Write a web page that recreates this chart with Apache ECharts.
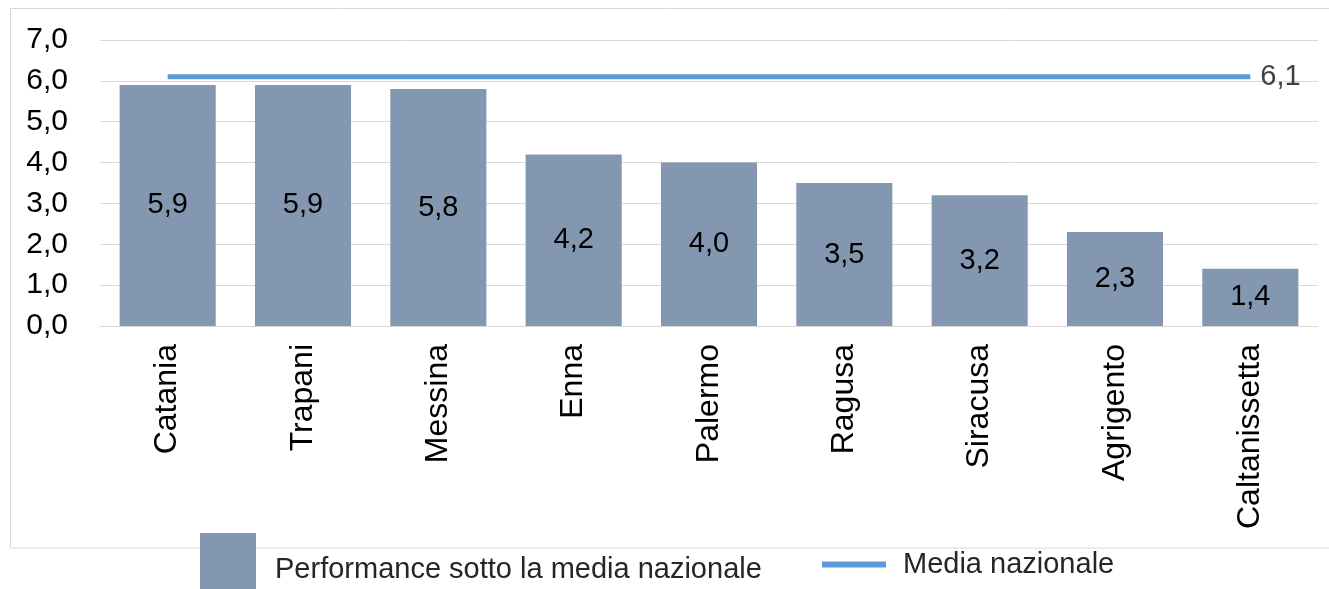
<!DOCTYPE html>
<html><head><meta charset="utf-8">
<script src="https://cdn.jsdelivr.net/npm/echarts@6/dist/echarts.min.js"></script>
<style>html,body{margin:0;padding:0;background:#fff}#c{width:1329px;height:589px}</style>
</head><body><div id="c"></div>
<script>
var categories = ['Catania','Trapani','Messina','Enna','Palermo','Ragusa','Siracusa','Agrigento','Caltanissetta'];
var barValues = [5.9, 5.9, 5.8, 4.2, 4.0, 3.5, 3.2, 2.3, 1.4];
var nationalAverage = [6.1, 6.1, 6.1, 6.1, 6.1, 6.1, 6.1, 6.1, 6.1];
var barName = 'Performance sotto la media nazionale';
var lineName = 'Media nazionale';
function fmt(v){ return Number(v).toFixed(1).replace('.', ','); }
var FONT = 'Liberation Sans';
var chart = echarts.init(document.getElementById('c'));
chart.setOption({
  animation: false,
  textStyle: {fontFamily: FONT},
  graphic: [{type:'rect', z: 0, shape:{x:10.5, y:8.5, width:1330, height:539.5}, style:{fill:'none', stroke:'#d9d9d9', lineWidth:1}}],
  grid: {left: 100, right: 11, top: 40, bottom: 263, containLabel: false},
  legend: [
    {data:[{name: barName, icon: 'rect'}], left: 195, top: 528, itemWidth: 56, itemHeight: 74, itemGap: 0,
     textStyle:{fontFamily: FONT, fontSize: 29, color:'#262626', padding:[0,0,0,14]}, z: 10},
    {data:[{name: lineName, icon: 'rect'}], left: 817, top: 545, itemWidth: 64, itemHeight: 6,
     textStyle:{fontFamily: FONT, fontSize: 29, color:'#262626', padding:[0,0,0,12]}, z: 10}
  ],
  xAxis: {
    type: 'category', data: categories,
    axisLine: {lineStyle:{color:'#d9d9d9'}}, axisTick: {show:false},
    axisLabel: {rotate: 90, fontSize: 32, color:'#000', margin: 18, interval: 0}
  },
  yAxis: {
    type: 'value', min: 0, max: 7, interval: 1,
    axisLine: {show:false}, axisTick:{show:false},
    splitLine: {lineStyle:{color:'#d9d9d9'}},
    axisLabel: {fontSize: 30, color:'#000', margin: 32, formatter: fmt}
  },
  series: [
    {name: barName, type:'bar', data: barValues, barCategoryGap: '29%',
     itemStyle:{color:'#8497B0'},
     label:{show:true, position:'inside', fontSize: 29, color:'#000', fontFamily: FONT, formatter: function(p){return fmt(p.value);}}},
    {name: lineName, type:'line', data: nationalAverage, symbol:'none',
     lineStyle:{color:'#5B9BD5', width:5}, itemStyle:{color:'#5B9BD5'},
     endLabel:{show:true, fontSize: 29, color:'#404040', fontFamily: FONT, distance: 10, formatter: function(p){return fmt(p.value);}}}
  ]
});
</script></body></html>
